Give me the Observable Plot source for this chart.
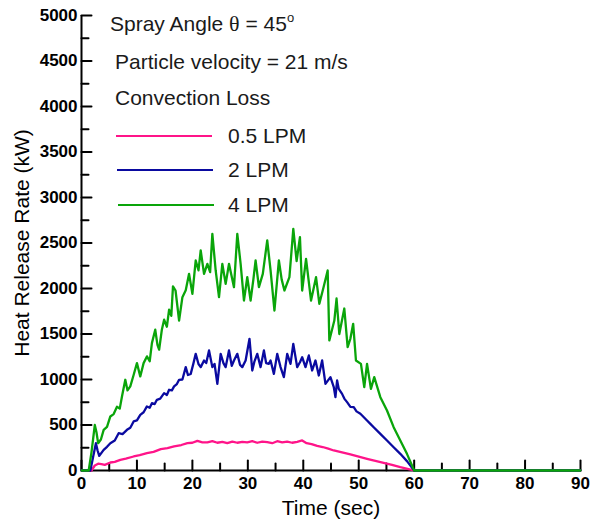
<!DOCTYPE html>
<html><head><meta charset="utf-8">
<script src="https://cdn.jsdelivr.net/npm/d3@7"></script>
<script src="https://cdn.jsdelivr.net/npm/@observablehq/plot@0.6"></script>
<style>
body{margin:0;background:#fff;}
#wrap{position:relative;width:592px;height:521px;font-family:"Liberation Sans",Arial,sans-serif;}
.lg{position:absolute;font-size:21px;color:#1a1a1a;white-space:nowrap;line-height:21px;}
.sw{position:absolute;height:2px;}
.th{font-family:"Liberation Serif","DejaVu Serif",serif;font-size:22px;}
sup{font-size:13px;vertical-align:9px;line-height:0;}
</style></head><body><div id="wrap"></div>
<script>
const seriesNames = ["0.5 LPM", "2 LPM", "4 LPM"];
const seriesColors = ["#ff1489", "#0a0aa0", "#0aa50a"];

const pinkT = [0,1.8,2.4,3.0,3.6,4.2,5.2,6,7,8,9.4,10.5,11.8,13,14.3,15.5,16.7,18,19.1,20,20.9,21.8,22.7,23.6,24.5,25.4,26.3,27.2,28.1,29,29.9,30.8,31.7,32.6,33.5,34.4,35.3,36.2,37.1,38,38.9,39.8,40.6,41.5,42.5,43.5,44.5,45.5,47,48.5,50,51.5,53,54.5,56,57.5,58.8,60,90];
const pinkV = [0,0,55,75,70,62,88,95,117,130,154,168,190,205,235,245,264,280,300,305,326,310,308,322,305,315,300,318,305,315,310,322,305,318,311,300,322,308,318,305,315,330,300,290,270,258,240,220,200,176,152,128,106,84,62,37,18,0,0];

const blueT = [0,1.6,2.1,2.6,2.9,3.2,4,4.6,5.2,6,6.7,7.4,8.2,8.8,9.4,10,10.6,11.2,11.8,12.3,12.7,13.2,13.6,14.2,14.9,15.4,15.8,16.3,16.7,17.2,17.6,18.2,18.8,19.2,19.7,20.2,20.6,21.1,21.5,22.1,22.5,23,23.6,24,24.5,25.1,25.6,26,26.6,27.1,27.5,28.1,28.6,29,29.6,30.3,30.8,31.2,31.7,32.3,32.9,33.3,33.8,34.1,34.7,35.3,35.9,36.5,37.1,37.7,38.2,38.9,39.4,39.8,40.4,41,41.6,42.2,42.8,43.4,44,44.9,45.5,45.8,46.1,46.4,47,47.4,47.9,48.5,49.1,49.6,50.3,51.5,52.1,52.7,53.9,55.1,56.3,57.5,58.7,60,90];
const blueV = [0,0,150,300,220,160,227,260,300,330,410,400,447,470,539,550,612,640,704,690,740,730,777,790,850,830,887,880,924,950,997,1000,1136,1050,1062,1180,1282,1170,1136,1209,1180,1319,1136,1170,952,1282,1180,1136,1319,1150,1209,1282,1160,1136,1209,1447,1099,1200,1282,1136,1319,1180,1172,1209,1062,1282,1136,1026,1282,1172,1392,1136,1190,1245,1136,1264,1099,1209,1044,1209,952,1026,916,806,989,897,842,790,751,700,696,650,623,549,513,476,403,330,256,183,103,0,0];

const greenT = [0,1.3,1.8,2.4,2.7,3.0,3.5,4.0,4.6,5.2,5.8,6.4,6.9,7.3,7.9,8.3,8.8,9.4,10,10.6,11.2,11.8,12.3,12.7,13.3,13.7,14,14.5,14.9,15.4,15.8,16.2,16.5,16.96,17.6,18.2,18.8,19.4,20,20.6,21.1,21.5,22.1,22.7,23.2,23.6,24.2,24.8,25.4,26,26.6,27.5,28.1,28.7,29.3,29.9,30.5,31,31.4,32,32.7,33.5,34.1,34.8,35.6,36.1,36.6,37.5,38.2,38.8,39.4,39.8,40.5,41.4,42.3,42.9,43.6,44.4,44.7,45.6,46,46.5,47.4,48,48.5,49,49.5,50.4,51,51.5,52.2,52.8,53.9,55.1,56.3,57.5,58.7,60,90];
const greenV = [0,0,200,500,420,300,340,447,480,594,620,700,680,814,997,880,924,1050,1180,1034,1180,1254,1200,1400,1547,1380,1327,1550,1657,1580,1767,1700,2023,1978,1648,1905,1980,2161,1941,2308,2200,2418,2161,2271,2180,2601,2198,1905,2271,2051,2271,2015,2601,2271,1868,2124,1868,2100,2308,2015,2161,2528,2198,1758,2308,2100,1978,2124,2656,2300,2564,1978,2326,1868,2124,1832,2000,2198,1429,1648,1890,1500,1780,1355,1450,1612,1209,1172,916,1172,897,1026,806,659,476,330,183,0,0];

const xTicks = [0,10,20,30,40,50,60,70,80,90];
const xMinor = [5,15,25,35,45,55,65,75,85];
const yTicks = [0,500,1000,1500,2000,2500,3000,3500,4000,4500,5000];
const yMinor = [250,750,1250,1750,2250,2750,3250,3750,4250,4750];

const table = [];
[[pinkT, pinkV], [blueT, blueV], [greenT, greenV]].forEach(([ts, vs], i) => {
  ts.forEach((t, j) => table.push({series: seriesNames[i], t, v: vs[j]}));
});

const W = 592, H = 521, mL = 81, mR = 12, mT = 15, mB = 51;
const xMax = 90, yMax = 5000;
const plotW = W - mL - mR, plotH = H - mT - mB;
// inward tick lengths (pixels) converted to data units; each tick is a 2-point segment
const pxToX = p => p * xMax / plotW, pxToY = p => p * yMax / plotH;
const tickSegs = [];
const addX = (ticks, len) => ticks.forEach(t => {
  const id = "x" + t;
  tickSegs.push({id, t, v: 0}, {id, t, v: pxToY(len)});
});
const addY = (ticks, len) => ticks.forEach(v => {
  const id = "y" + v;
  tickSegs.push({id, t: 0, v}, {id, t: pxToX(len), v});
});
addX(xTicks, 10); addX(xMinor, 7); addY(yTicks, 10); addY(yMinor, 7);

const tickFont = {fontSize: 17, fontWeight: "bold", tickFormat: d3.format("d"), fill: "#000"};
const chart = Plot.plot({
  width: W, height: H,
  marginLeft: mL, marginRight: mR, marginTop: mT, marginBottom: mB,
  style: {fontFamily: "'Liberation Sans', Arial, sans-serif", background: "#fff", color: "#000", overflow: "visible"},
  x: {domain: [0, xMax]},
  y: {domain: [0, yMax]},
  color: {domain: seriesNames, range: seriesColors},
  marks: [
    Plot.axisX({ticks: xTicks, tickSize: 0, tickPadding: 6, ...tickFont, label: null}),
    Plot.axisY({ticks: yTicks, tickSize: 0, tickPadding: 4, ...tickFont, label: null}),
    Plot.ruleX([0], {stroke: "#000", strokeWidth: 2}),
    Plot.ruleY([0], {stroke: "#000", strokeWidth: 2}),
    Plot.line(tickSegs, {x: "t", y: "v", z: "id", stroke: "#000", strokeWidth: 2}),
    Plot.line(table, {x: "t", y: "v", z: "series", stroke: "series", strokeWidth: 2.3, curve: "linear"}),
    Plot.text(["Time (sec)"], {frameAnchor: "bottom", lineAnchor: "middle", dy: 38, fontSize: 21, fill: "#000"}),
    Plot.text(["Heat Release Rate (kW)"], {frameAnchor: "left", textAnchor: "middle", lineAnchor: "middle", dx: -59, rotate: -90, fontSize: 21, fill: "#000"})
  ]
});
const wrap = document.getElementById("wrap");
wrap.appendChild(chart);

const legend = [
  {html: 'Spray Angle <span class="th">θ</span> = 45<sup>o</sup>', left: 110, top: 13},
  {html: 'Particle velocity = 21 m/s', left: 115, top: 51},
  {html: 'Convection Loss', left: 115, top: 87}
];
legend.forEach(d => {
  const el = document.createElement("div");
  el.className = "lg"; el.innerHTML = d.html;
  el.style.left = d.left + "px"; el.style.top = d.top + "px";
  wrap.appendChild(el);
});
const swatchY = [136, 170, 205];
seriesNames.forEach((name, i) => {
  const sw = document.createElement("div");
  sw.className = "sw";
  sw.style.left = (116 + i) + "px"; sw.style.width = "96px";
  sw.style.top = (swatchY[i] - 1) + "px"; sw.style.background = seriesColors[i];
  wrap.appendChild(sw);
  const el = document.createElement("div");
  el.className = "lg"; el.textContent = name;
  el.style.left = "228px"; el.style.top = (swatchY[i] - 11) + "px";
  wrap.appendChild(el);
});
</script></body></html>
